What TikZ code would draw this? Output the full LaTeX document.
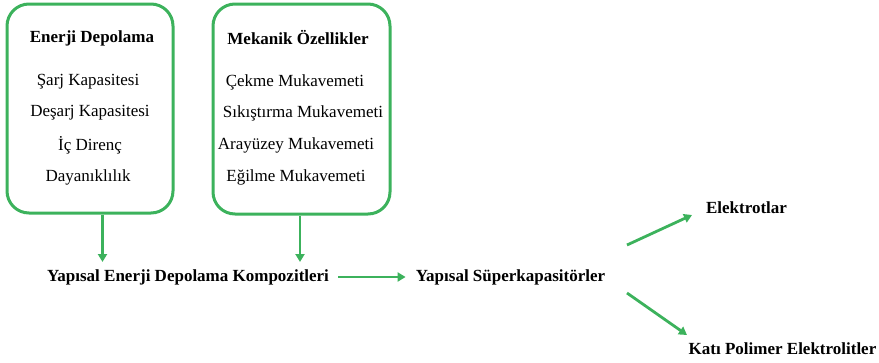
\documentclass[tikz,border=0pt]{standalone}
\usepackage{fontspec}
\setmainfont{Liberation Serif}
\usetikzlibrary{arrows.meta}
\definecolor{grn}{RGB}{60,178,92}
\begin{document}
\begin{tikzpicture}[x=1pt,y=-1pt,
  box/.style={draw=grn, line width=3pt, rounded corners=22pt, minimum width=166pt, minimum height=209pt, inner sep=0pt},
  txt/.style={font=\fontsize{17}{20}\selectfont, inner sep=0pt, anchor=center},
  bold/.style={txt, font=\fontsize{17}{20}\selectfont\bfseries},
  arr/.style={draw=grn, line width=2.8pt, -{Triangle[length=8pt,width=9pt]}}]
\useasboundingbox (0,0) rectangle (879,362);
\node[box] (b1) at (90,108.5) {};
\node[box, minimum width=177pt, minimum height=210pt] (b2) at (301.5,109) {};
\node[bold] (h1) at (92,38) {Enerji Depolama};
\node[txt] (t11) at (88,82) {Şarj Kapasitesi};
\node[txt] (t12) at (90,113) {Deşarj Kapasitesi};
\node[txt] (t13) at (90,145) {İç Direnç};
\node[txt] (t14) at (88,177) {Dayanıklılık};
\node[bold] (h2) at (298,38) {Mekanik Özellikler};
\node[txt] (t21) at (295,82) {Çekme Mukavemeti};
\node[txt] (t22) at (303,113) {Sıkıştırma Mukavemeti};
\node[txt] (t23) at (296,145) {Arayüzey Mukavemeti};
\node[txt] (t24) at (296,177) {Eğilme Mukavemeti};
\node[bold] (k) at (188,277) {Yapısal Enerji Depolama Kompozitleri};
\node[bold] (s) at (510.5,277) {Yapısal Süperkapasitörler};
\node[bold] (e) at (746.5,208) {Elektrotlar};
\node[bold] (p) at (782.5,349) {Katı Polimer Elektrolitler};
\coordinate (a1) at (102.5,262);
\coordinate (a2) at (300,262);
\draw[arr] (b1.south -| a1) -- (a1);
\draw[arr] (b2.south -| a2) -- (a2);
\draw[arr] (k.east) ++(9,0) -- ([xshift=-10pt]s.west);
\coordinate (u0) at (627,245);
\coordinate (u1) at (692,215);
\coordinate (d0) at (627,293);
\coordinate (d1) at (687,335);
\draw[arr] (u0) -- (u1);
\draw[arr] (d0) -- (d1);
\end{tikzpicture}
\end{document}
